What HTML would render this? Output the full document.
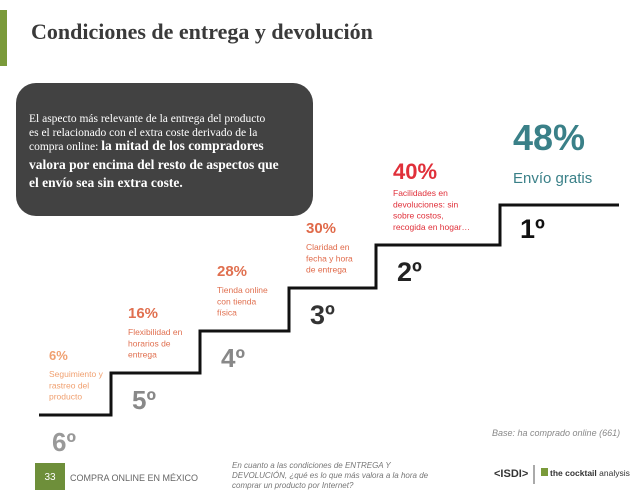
<!DOCTYPE html>
<html><head><meta charset="utf-8"><style>
body{margin:0;width:638px;height:493px;background:#fff;overflow:hidden;font-family:"Liberation Sans",sans-serif}
svg{display:block}
</style></head><body>
<svg width="638" height="493" viewBox="0 0 638 493">
<rect x="0" y="10" width="7" height="56" fill="#7a9a3a"/>
<text x="31" y="39" font-family="Liberation Serif,serif" font-weight="bold" font-size="22" fill="#3a3a3a">Condiciones de entrega y devolución</text>
<rect x="16" y="83" width="297" height="133" rx="20" fill="#424242"/>
<g font-family="Liberation Serif,serif" fill="#fff">
<text x="29" y="122" font-size="11.5">El aspecto más relevante de la entrega del producto</text>
<text x="29" y="136" font-size="11.5">es el relacionado con el extra coste derivado de la</text>
<text x="29" y="150" font-size="11.5">compra online: <tspan font-weight="bold" font-size="13.5">la mitad de los compradores</tspan></text>
<text x="29" y="169" font-size="13.5" font-weight="bold">valora por encima del resto de aspectos que</text>
<text x="29" y="187" font-size="13.5" font-weight="bold">el envío sea sin extra coste.</text>
</g>
<g id="stairs"></g>
<text x="492" y="436" font-size="9" font-style="italic" fill="#888">Base: ha comprado online (661)</text>
<rect x="35" y="463" width="30" height="27" fill="#6e8f3a"/>
<text x="50" y="480" font-size="10" fill="#fff" text-anchor="middle">33</text>
<text x="70" y="481" font-size="9" fill="#666">COMPRA ONLINE EN MÉXICO</text>
<g font-size="8" font-style="italic" fill="#777">
<text x="232" y="468">En cuanto a las condiciones de ENTREGA Y</text>
<text x="232" y="478">DEVOLUCIÓN, ¿qué es lo que más valora a la hora de</text>
<text x="232" y="488">comprar un producto por Internet?</text>
</g>
<g><text x="494" y="477" font-size="11" font-weight="bold" fill="#333">&lt;ISDI&gt;</text></g>
<line x1="534" y1="465" x2="534" y2="484" stroke="#555"/>
<rect x="541" y="468" width="7" height="8" fill="#7a9a3a"/>
<text x="550" y="476" font-size="8.5" fill="#333"><tspan font-weight="bold">the cocktail</tspan> analysis</text>
</svg>
<script>
const ranks=["6º","5º","4º","3º","2º","1º"];
const values=[6,16,28,30,40,48];
const labels=[["Seguimiento y","rastreo del","producto"],["Flexibilidad en","horarios de","entrega"],["Tienda online","con tienda","física"],["Claridad en","fecha y hora","de entrega"],["Facilidades en","devoluciones: sin","sobre costos,","recogida en hogar…"],["Envío gratis"]];
const colors=["#f0a070","#e07050","#e07050","#e06a4a","#e0303a","#3a8088"];
const rankColors=["#999","#888","#888","#333","#222","#111"];
const NS="http://www.w3.org/2000/svg";
const g=document.getElementById('stairs');
const stepX=[39,111,200,289,376,500,619];
const stepY=[415,373,331,288,245,205];
function mk(t,a){const e=document.createElementNS(NS,t);for(const k in a)e.setAttribute(k,a[k]);g.appendChild(e);return e;}
let d="M"+stepX[0]+" "+stepY[0];
for(let i=0;i<6;i++){d+=" H"+stepX[i+1];if(i<5)d+=" V"+stepY[i+1];}
const p=mk('path',{d:d,fill:"none",stroke:"#111","stroke-width":3});


for(let i=0;i<6;i++){
  const x0=stepX[i]+(i===0?10:17), yl=stepY[i];
  const r=mk('text',{x:(i===5?520:x0+(i===0?3:4)),y:(i===5?yl+33:yl+36),"font-size":(i>=3?27:26),"font-weight":"bold",fill:rankColors[i]});
  r.textContent=ranks[i];
  
  
  if(i<5){
    const lx=i===0?49:stepX[i]+17;
    const vy=yl-((i===4?4:3)*11+22);
    const v=mk('text',{x:lx,y:vy,"font-size":(i===4?22:(i===0?13:15)),"font-weight":"bold",fill:colors[i]});
    v.textContent=values[i]+"%";
    
    
    labels[i].forEach((s,j)=>{const t=mk('text',{x:lx,y:vy+17+j*11.3,"font-size":8.5,fill:colors[i]});t.textContent=s;
      
      });
  } else {
    const v=mk('text',{x:513,y:150,"font-size":36,"font-weight":"bold",fill:colors[i]});
    v.textContent=values[i]+"%";
    
    
    const t=mk('text',{x:513,y:183,"font-size":15,fill:colors[i]});t.textContent=labels[i][0];
    
    
  }
}
</script>
</body></html>
